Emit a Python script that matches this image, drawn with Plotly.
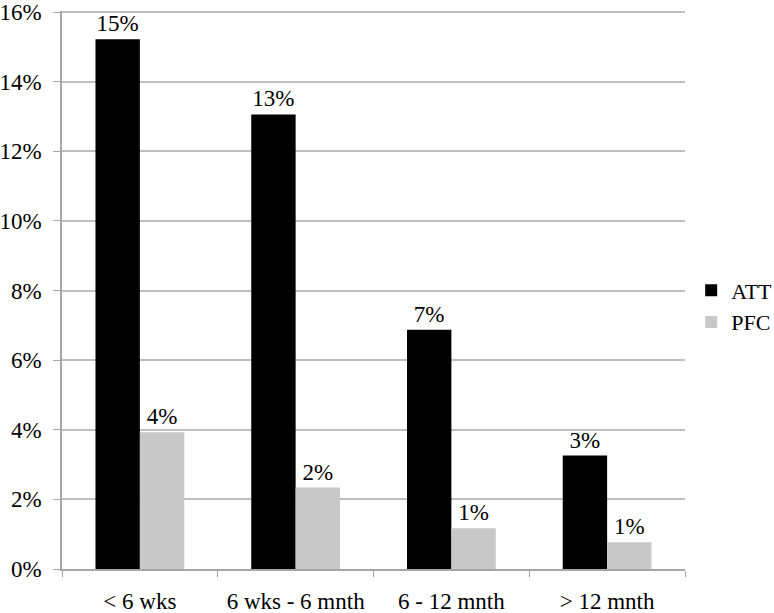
import plotly.graph_objects as go

categories = ["< 6 wks", "6 wks - 6 mnth", "6 - 12 mnth", "> 12 mnth"]
att_values = [0.1522, 0.1306, 0.0687, 0.0326]
pfc_values = [0.0393, 0.0234, 0.0117, 0.0077]
y_ticks = [0, 0.02, 0.04, 0.06, 0.08, 0.10, 0.12, 0.14, 0.16]

FONT = "Liberation Serif, Times New Roman, serif"

fig = go.Figure()
fig.add_trace(go.Bar(
    x=categories, y=att_values, name="ATT", legendgroup="a",
    marker=dict(color="#000000", line=dict(width=0)),
    texttemplate="%{y:.0%}", textposition="outside",
    textfont=dict(family=FONT, size=23, color="#000000"), cliponaxis=False,
))
fig.add_trace(go.Bar(
    x=categories, y=pfc_values, name="PFC", legendgroup="b",
    marker=dict(color="#c8c8c8", line=dict(width=0)),
    texttemplate="%{y:.0%}", textposition="outside",
    textfont=dict(family=FONT, size=23, color="#000000"), cliponaxis=False,
))

fig.update_layout(
    width=774, height=613,
    margin=dict(l=62, r=89, t=11, b=44, autoexpand=False),
    paper_bgcolor="white", plot_bgcolor="white",
    barmode="group", bargap=0.43, bargroupgap=0,
    font=dict(family=FONT, size=23, color="#000000"),
    showlegend=True,
    legend=dict(xref="container", x=0.893, xanchor="left",
                yref="container", y=0.50, yanchor="middle",
                font=dict(family=FONT, size=22, color="#000000"),
                traceorder="grouped", tracegroupgap=0,
                bgcolor="rgba(0,0,0,0)"),
    xaxis=dict(
        showgrid=False, showline=True, linecolor="#a6a6a6", linewidth=1.5,
        ticks="outside", tickson="boundaries", ticklen=6, tickcolor="#a6a6a6",
        tickfont=dict(family=FONT, size=23, color="#000000"),
        ticklabelstandoff=11, automargin=False,
    ),
    yaxis=dict(
        range=[0, 0.1603], tickvals=y_ticks, tickformat=".0%",
        showgrid=True, gridcolor="#bfbfbf", gridwidth=1.5,
        showline=True, linecolor="#a6a6a6", linewidth=1.5,
        ticks="outside", ticklen=7, tickcolor="#a6a6a6",
        tickfont=dict(family=FONT, size=23, color="#000000"),
        ticklabelstandoff=7, ticklabeloverflow="allow",
        zeroline=False, automargin=False,
    ),
)

fig.write_html("out.html", config={"displayModeBar": False},
               post_script="document.body.style.margin='0px';")
